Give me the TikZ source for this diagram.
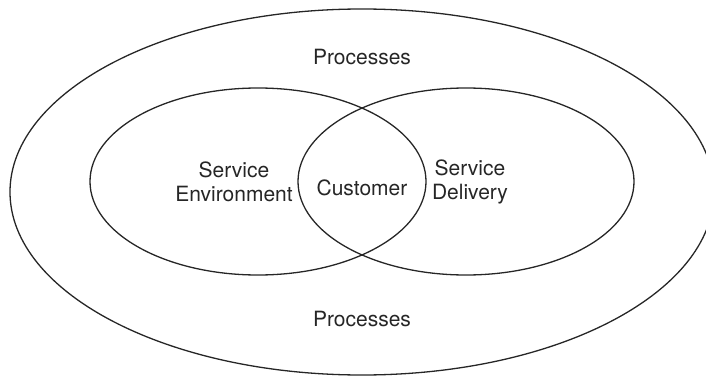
\documentclass[tikz,border=0pt]{standalone}
\usepackage{fontspec}
\setmainfont{TeX Gyre Heros}
\tikzset{
  ring/.style={draw=black!85, line width=1.3pt},
  lbl/.style={font=\fontsize{21}{24.5}\selectfont, text=black!85, align=center, inner sep=0pt},
}
\begin{document}
\begin{tikzpicture}[x=1pt,y=-1pt]
\useasboundingbox (0,0) rectangle (706,377);
\clip (0,0) rectangle (706,377);
\draw[ring] (362,192) ellipse [x radius=352, y radius=183];
\draw[ring] (258,181.5) ellipse [x radius=168, y radius=93.5];
\draw[ring] (466,181.5) ellipse [x radius=168, y radius=93.5];
\node[lbl] (ptop) at (362,57) {Processes};
\node[lbl] (pbot) at (362,319) {Processes};
\node[lbl] (env) at (234,182) {Service\\Environment};
\node[lbl] (cust) at (362,188) {Customer};
\node[lbl] (del) at (470,182) {Service\\Delivery};
\end{tikzpicture}
\end{document}
